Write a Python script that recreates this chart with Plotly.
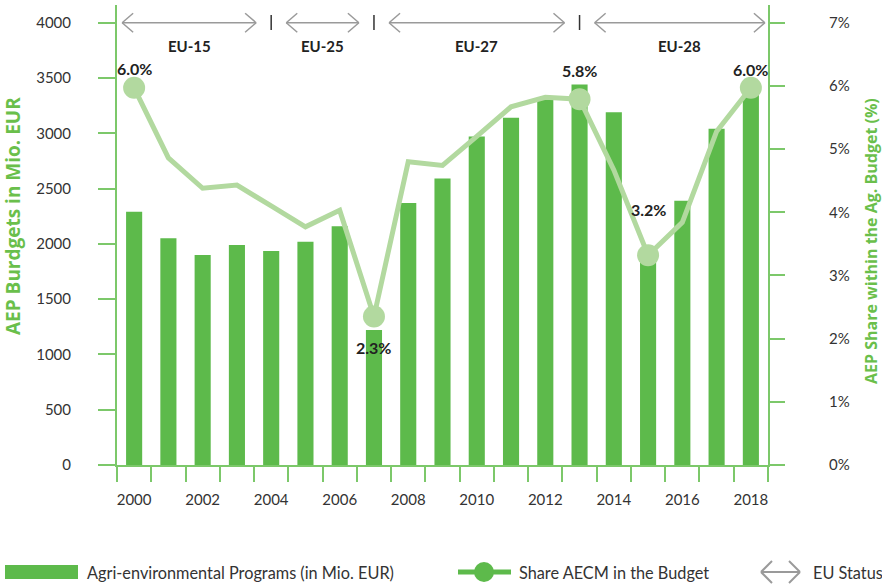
import plotly.graph_objects as go

# ---------------- data ----------------
years = list(range(2000, 2019))
aep_budget = [2290, 2050, 1900, 1990, 1935, 2020, 2160, 1220, 2370, 2590,
              2970, 3140, 3310, 3440, 3190, 1880, 2390, 3040, 3400]
aep_share = [5.97, 4.86, 4.38, 4.43, 4.10, 3.77, 4.03, 2.35, 4.80, 4.74,
             5.20, 5.67, 5.82, 5.79, 4.67, 3.32, 3.84, 5.28, 5.97]
labelled_years = [2000, 2007, 2013, 2015, 2018]
labelled_text = ["6.0%", "2.3%", "5.8%", "3.2%", "6.0%"]
eu_labels = ["EU-15", "EU-25", "EU-27", "EU-28"]
eu_start = [2000, 2004, 2007, 2013]
left_ticks = [0, 500, 1000, 1500, 2000, 2500, 3000, 3500, 4000]
right_ticks = [0, 1, 2, 3, 4, 5, 6, 7]
x_tick_years = [2000, 2002, 2004, 2006, 2008, 2010, 2012, 2014, 2016, 2018]

# ---------------- style ----------------
W, H = 882, 584
L, R, T, B = 117, 768, 5, 465
BAR = "#5dba4b"
LINE = "#b2d99f"
AXIS = "#7cc86a"
TITLE = "#6abf4b"
TXT = "#333333"
GREY = "#9a9a9a"
FONT = "Lato"
TFONT = "Open Sans"


def pxx(x):
    return (x - L) / (R - L)


def pxy(y):
    return (B - y) / (B - T)


x_range = [years[0] - 0.5, years[-1] + 0.5]
yr_px = (R - L) / (x_range[1] - x_range[0])
y_top_px = 22.7
left_max = left_ticks[-1] * (B - T) / (B - y_top_px)
right_max = right_ticks[-1] * (B - T) / (B - y_top_px)

fig = go.Figure()
fig.add_trace(go.Bar(x=years, y=aep_budget, width=0.47, marker_color=BAR,
                     marker_line_width=0,
                     name="Agri-environmental Programs (in Mio. EUR)",
                     showlegend=False))
fig.add_trace(go.Scatter(x=years, y=aep_share, yaxis="y2", mode="lines",
                         line=dict(color=LINE, width=5),
                         name="Share AECM in the Budget", showlegend=False))
share_of = dict(zip(years, aep_share))
fig.add_trace(go.Scatter(x=labelled_years, y=[share_of[y] for y in labelled_years],
                         yaxis="y2", mode="markers",
                         marker=dict(size=22, color=LINE),
                         showlegend=False, hoverinfo="skip"))

annotations = []
label_shift = [19, -31, 29, 46, 18]
for yr, txt, sh in zip(labelled_years, labelled_text, label_shift):
    annotations.append(dict(x=yr, y=share_of[yr], xref="x", yref="y2",
                            xanchor="center", yanchor="middle",
                            text=f"<b>{txt}</b>", showarrow=False, yshift=sh,
                            font=dict(family=FONT, size=16, color="#222")))

shapes = []
arrow_y = pxy(y_top_px)
head_dx = 11 / yr_px
head_dy = 9.5 / (B - T)
for i, lab in enumerate(eu_labels):
    x0 = eu_start[i] + 0.44 if i > 0 else x_range[0] + 0.15
    x1 = eu_start[i + 1] - 0.44 if i < len(eu_labels) - 1 else x_range[1] - 0.09
    ln = dict(color=GREY, width=1.5)
    shapes.append(dict(type="line", xref="x", yref="paper", x0=x0, x1=x1,
                       y0=arrow_y, y1=arrow_y, line=ln))
    for tip, d in ((x0, 1), (x1, -1)):
        for s in (1, -1):
            shapes.append(dict(type="line", xref="x", yref="paper",
                               x0=tip, y0=arrow_y, x1=tip + d * head_dx,
                               y1=arrow_y + s * head_dy, line=ln))
    annotations.append(dict(x=(x0 + x1) / 2, y=pxy(46), xref="x", yref="paper",
                            xanchor="center", yanchor="middle",
                            text=f"<b>{lab}</b>", showarrow=False,
                            font=dict(family=FONT, size=15, color="#222")))
for sep in eu_start[1:]:
    shapes.append(dict(type="line", xref="x", yref="paper", x0=sep, x1=sep,
                       y0=pxy(15), y1=pxy(30), line=dict(color="#333", width=1.5)))

# axis titles
annotations.append(dict(x=pxx(13), y=pxy(216), xref="paper", yref="paper",
                        xanchor="center", yanchor="middle",
                        text="<b>AEP Burdgets in Mio. EUR</b>", textangle=-90,
                        showarrow=False,
                        font=dict(family=TFONT, size=19, color=TITLE)))
annotations.append(dict(x=pxx(871), y=pxy(241), xref="paper", yref="paper",
                        xanchor="center", yanchor="middle",
                        text="<b>AEP Share within the Ag. Budget (%)</b>",
                        textangle=-90, showarrow=False,
                        font=dict(family=TFONT, size=16, color=TITLE)))

# manual legend
ly = 572
shapes.append(dict(type="rect", xref="paper", yref="paper",
                   x0=pxx(5), x1=pxx(78), y0=pxy(579), y1=pxy(565),
                   fillcolor=BAR, line=dict(width=0)))
shapes.append(dict(type="line", xref="paper", yref="paper",
                   x0=pxx(458), x1=pxx(511), y0=pxy(ly), y1=pxy(ly),
                   line=dict(color=BAR, width=5)))
shapes.append(dict(type="circle", xref="paper", yref="paper",
                   x0=pxx(474), x1=pxx(494), y0=pxy(582), y1=pxy(562),
                   fillcolor=BAR, line=dict(width=0)))
lg = dict(color=GREY, width=2)
shapes.append(dict(type="line", xref="paper", yref="paper",
                   x0=pxx(761), x1=pxx(800), y0=pxy(ly), y1=pxy(ly), line=lg))
for tip, d in ((761, 1), (800, -1)):
    for s in (1, -1):
        shapes.append(dict(type="line", xref="paper", yref="paper",
                           x0=pxx(tip), y0=pxy(ly), x1=pxx(tip + d * 11),
                           y1=pxy(ly + s * 11), line=lg))
for xt, txt in ((85, "Agri-environmental Programs (in Mio. EUR)"),
                (517, "Share AECM in the Budget"),
                (811, "EU Status")):
    annotations.append(dict(x=pxx(xt), y=pxy(ly), xref="paper", yref="paper",
                            xanchor="left", yanchor="middle", text=txt,
                            showarrow=False,
                            font=dict(family=FONT, size=16.3, color=TXT)))

fig.update_layout(
    width=W, height=H,
    margin=dict(l=L, r=W - R, t=T, b=H - B, pad=0),
    paper_bgcolor="white", plot_bgcolor="white",
    font=dict(family=FONT, size=15, color=TXT),
    showlegend=False,
    bargap=0.5,
    xaxis=dict(type="linear", range=x_range, tickmode="array",
               tickvals=x_tick_years, ticks="", showgrid=False, zeroline=False,
               showline=True, linecolor=AXIS, linewidth=2,
               tickfont=dict(family=FONT, size=15, color=TXT),
               ticklabelstandoff=20,
               minor=dict(tickmode="linear", tick0=x_range[0], dtick=1,
                          ticks="outside", ticklen=15, tickcolor=AXIS,
                          tickwidth=2, showgrid=False)),
    yaxis=dict(range=[0, left_max], tickmode="array", tickvals=left_ticks,
               showgrid=False, zeroline=False, showline=True, linecolor=AXIS,
               linewidth=2, ticks="outside", ticklen=17, tickcolor=AXIS,
               tickwidth=2, tickfont=dict(family=FONT, size=15, color=TXT),
               ticklabelstandoff=24),
    yaxis2=dict(range=[0, right_max], overlaying="y", side="right",
                tickmode="array", tickvals=right_ticks,
                ticktext=[f"{v}%" for v in right_ticks],
                showgrid=False, zeroline=False, showline=True, linecolor=AXIS,
                linewidth=2, ticks="outside", ticklen=15, tickcolor=AXIS,
                tickwidth=2, tickfont=dict(family=FONT, size=15, color=TXT),
                ticklabelstandoff=41),
    shapes=shapes,
    annotations=annotations,
)

fig.write_html("out.html", config={"displayModeBar": False},
               post_script="document.body.style.margin='0';"
                           "document.body.style.overflow='hidden';")
